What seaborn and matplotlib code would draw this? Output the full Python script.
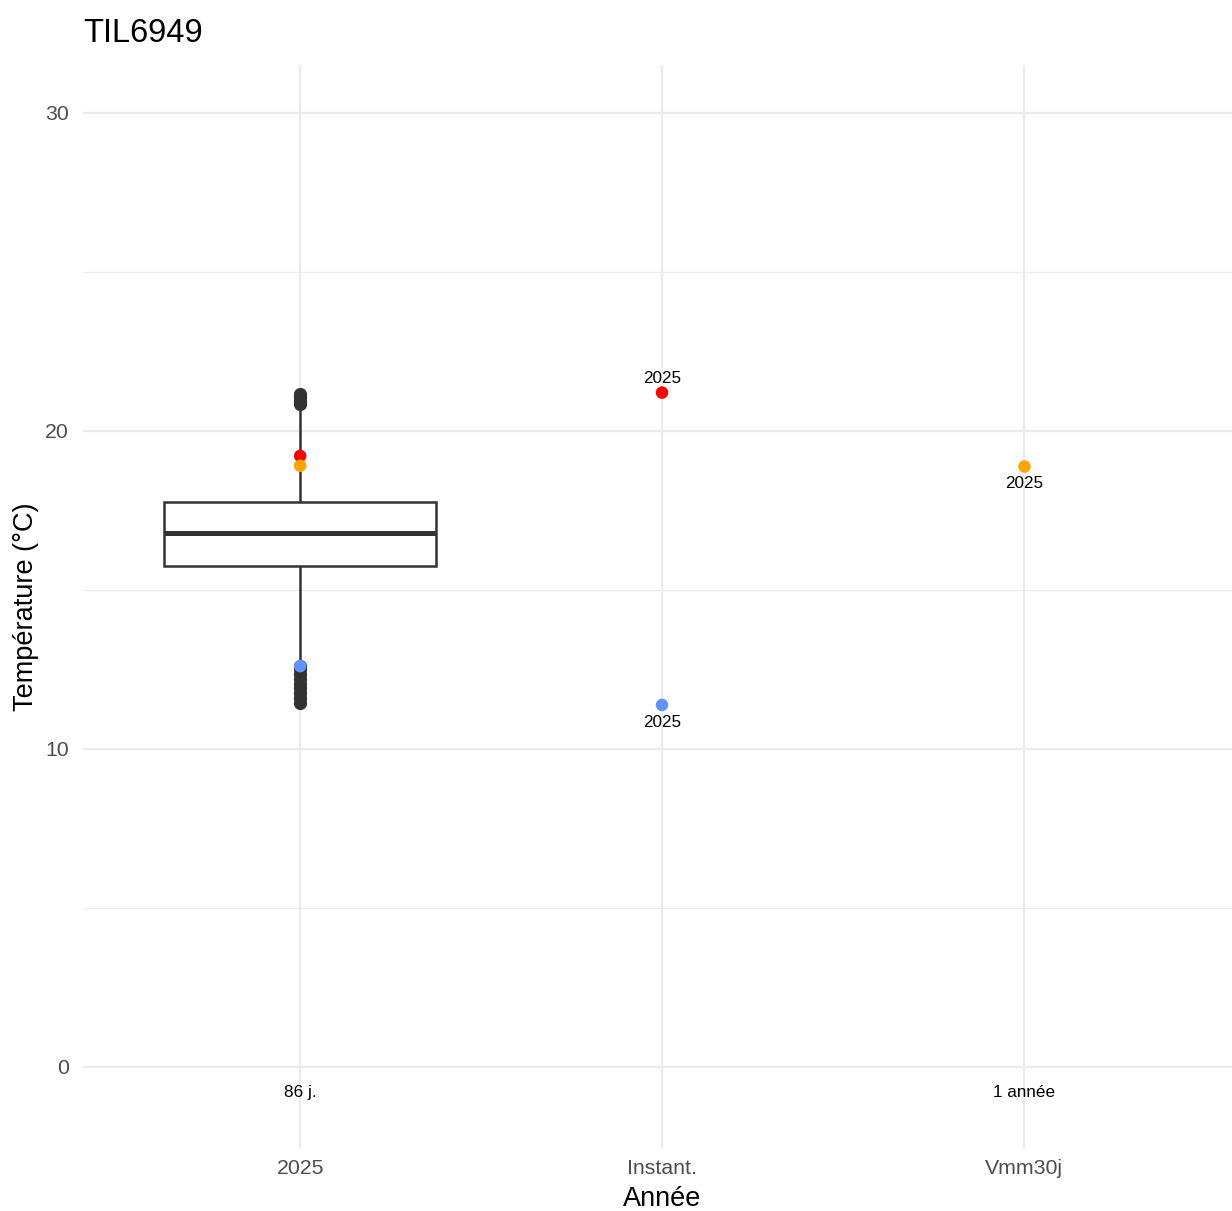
import numpy as np
import pandas as pd
import matplotlib
matplotlib.use("Agg")
import matplotlib.pyplot as plt
import seaborn as sns

# ---- data ----
categories = ["2025", "Instant.", "Vmm30j"]
box_category = "2025"
box_values = [11.45, 11.6, 11.75, 11.9, 12.05, 12.2, 12.35, 12.5, 12.62,
              12.8,
              15.75,
              15.85, 15.95, 16.05, 16.15, 16.25, 16.4, 16.5, 16.6, 16.7,
              16.79,
              16.9, 17.0, 17.1, 17.2, 17.3, 17.4, 17.5, 17.6, 17.7,
              17.77,
              18.2, 18.8, 19.4, 19.9, 20.4, 20.7,
              20.85, 20.95, 21.05, 21.15]
point_categories = ["2025", "2025", "2025", "Instant.", "Instant.", "Vmm30j"]
point_values = [19.21, 18.9, 12.6, 21.2, 11.38, 18.9]
point_kinds = ["max", "moy", "min", "max", "min", "moy"]
label_categories = ["Instant.", "Instant.", "Vmm30j"]
label_values = [21.2, 11.38, 18.9]
label_texts = ["2025", "2025", "2025"]
label_side = ["above", "below", "below"]
period_categories = ["2025", "Vmm30j"]
period_texts = ["86 j.", "1 année"]
period_y = -0.8
title = "TIL6949"
xlabel = "Année"
ylabel = "Température (°C)"
kind_colors = {"max": "#FF0000", "moy": "#FFA500", "min": "#6093FF"}

# ---- style ----
sns.set_theme(style="white")
plt.rcParams['font.family'] = ['Liberation Sans', 'DejaVu Sans']

fig = plt.figure(figsize=(12.32, 12.11), dpi=100)
ax = fig.add_axes([83/1232, 1 - 1148/1211, 1 - 83/1232, (1148 - 65)/1211])

box_df = pd.DataFrame({"cat": [box_category] * len(box_values), "val": box_values})
pts_df = pd.DataFrame({"cat": point_categories, "val": point_values, "kind": point_kinds})

# grid
for v in [5, 15, 25]:
    ax.axhline(v, color="#EBEBEB", lw=0.9, zorder=0)
for v in [0, 10, 20, 30]:
    ax.axhline(v, color="#EBEBEB", lw=1.6, zorder=0)
for i in range(len(categories)):
    ax.axvline(i, color="#EBEBEB", lw=1.6, zorder=0)

sns.boxplot(data=box_df, x="cat", y="val", order=categories, ax=ax,
            color="white", linecolor="#333333", linewidth=1.8, width=0.75,
            fliersize=8.5, showcaps=False,
            flierprops=dict(marker="o", markerfacecolor="#333333",
                            markeredgecolor="#333333"),
            medianprops=dict(linewidth=3.6, color="#333333"))

sns.stripplot(data=pts_df, x="cat", y="val", hue="kind", order=categories,
              palette=kind_colors, jitter=False, size=9, linewidth=0,
              ax=ax, legend=False, zorder=5)

for c, v, t, s in zip(label_categories, label_values, label_texts, label_side):
    xi = categories.index(c)
    off = 0.44 if s == "above" else -0.56
    ax.text(xi, v + off, t, ha="center", va="center", fontsize=12.3, color="black")

for c, t in zip(period_categories, period_texts):
    xi = categories.index(c)
    ax.text(xi, period_y, t, ha="center", va="center", fontsize=12.3, color="black")

x0, x1 = -0.6, 2.575
ax.set_xlim(x0, x1)
ax.set_ylim(-2.55, 31.5)
ax.set_yticks([0, 10, 20, 30])
ax.set_yticklabels(["0", "10", "20", "30"])
ax.tick_params(axis="both", length=0, labelsize=15.3, labelcolor="#4D4D4D")
ax.tick_params(axis="x", pad=8)
ax.tick_params(axis="y", pad=10)
for s in ax.spines.values():
    s.set_visible(False)
ax.grid(False)
ax.set_xlabel(xlabel, fontsize=19.5, color="black")
ax.set_ylabel(ylabel, fontsize=19.5, color="black")
ax.xaxis.set_label_coords((1 - x0) / (x1 - x0), (1148 - 1199) / 1083)
ax.xaxis.label.set_va("center")
ax.yaxis.set_label_coords((26 - 83) / 1149, 0.5)
ax.yaxis.label.set_va("center")
fig.text(83/1232, 1 - 33/1211, title, ha="left", va="center", fontsize=23.5, color="black")

fig.savefig("out.png", dpi=100, facecolor="white")
